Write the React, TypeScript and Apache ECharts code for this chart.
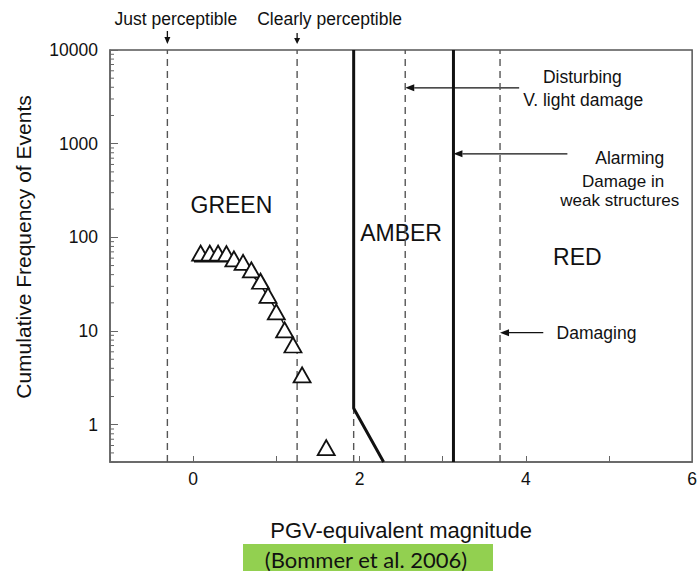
import React, { useEffect, useRef } from "react";
import * as echarts from "echarts";

// ---- data ----
const triangleX = [0.09, 0.2, 0.3, 0.4, 0.49, 0.6, 0.7, 0.81, 0.9, 1.0, 1.1, 1.2, 1.31, 1.6];
const triangleY = [68, 68, 68, 67, 59, 54, 45, 34, 24, 16, 10.3, 7.1, 3.4, 0.57];
const fitX = [0.01, 0.4, 0.55, 0.67, 0.79, 0.9, 1.02, 1.14, 1.26];
const fitY = [55, 55, 50, 42, 33, 23, 15.7, 9.8, 6.8];
const dashedX = [-0.31, 1.25, 1.93, 2.55, 3.69];
const amberBoundaryX = [1.93, 1.93, 2.29];
const amberBoundaryY = [10000, 1.5, 0.4];
const redBoundaryX = [3.13, 3.13];
const redBoundaryY = [10000, 0.4];
const xMin = -1;
const xMax = 6;
const yMin = 0.4;
const yMax = 10000;
const xTickLabels = [0, 2, 4, 6];
const yTickLabels = [1, 10, 100, 1000, 10000];
const minorMultipliers = [2, 3, 4, 5, 6, 7, 8, 9];
const minorDecades = [0.1, 1, 10, 100, 1000];

const zoneLabels = ["GREEN", "AMBER", "RED"];
const zoneX = [0.46, 2.5, 4.62];
const zoneY = [223, 112, 62];

const FONT = '"Liberation Sans", Arial, Helvetica, sans-serif';

export default function App() {
  const ref = useRef<HTMLDivElement>(null);

  useEffect(() => {
    if (!ref.current) return;
    const chart = echarts.init(ref.current, null, { renderer: "svg" });

    const minorValues: number[] = [];
    minorDecades.forEach((d) =>
      minorMultipliers.forEach((m) => {
        const v = d * m;
        if (v >= yMin && v <= yMax) minorValues.push(v);
      })
    );

    const isPow10 = (v: number) => {
      const l = Math.log10(v);
      return Math.abs(l - Math.round(l)) < 1e-6;
    };

    const dashedSeries = dashedX.map((x) => ({
      type: "line",
      data: [
        [x, yMin],
        [x, yMax],
      ],
      symbol: "none",
      silent: true,
      lineStyle: { color: "#555", width: 1.4, type: [7, 5] },
      z: 2,
    }));

    const grid = { left: 110, top: 50, width: 588, height: 412 };

    chart.setOption({
      animation: false,
      backgroundColor: "#fff",
      grid: { ...grid, show: true, borderColor: "#555", borderWidth: 1.5, backgroundColor: "transparent" },
      xAxis: {
        type: "value",
        min: xMin,
        max: xMax,
        interval: 1,
        name: "PGV-equivalent magnitude",
        nameLocation: "middle",
        nameGap: 57,
        nameTextStyle: { fontSize: 22, fontFamily: FONT, color: "#111" },
        axisLine: { show: true, onZero: false, lineStyle: { color: "#666", width: 1.5 } },
        axisTick: { show: true, inside: true, length: 6, lineStyle: { color: "#666" } },
        splitLine: { show: false },
        axisLabel: {
          margin: 8,
          fontSize: 17.5,
          fontFamily: FONT,
          color: "#111",
          formatter: (v: number) => (xTickLabels.includes(v) ? String(v) : ""),
        },
      },
      yAxis: {
        type: "log",
        logBase: 10,
        min: yMin,
        max: yMax,
        name: "Cumulative Frequency of Events",
        nameLocation: "middle",
        nameGap: 76,
        nameTextStyle: { fontSize: 21, fontFamily: FONT, color: "#111", padding: [0, 0, 0, 18] },
        axisLine: { show: true, onZero: false, lineStyle: { color: "#666", width: 1.5 } },
        axisTick: { show: true, inside: true, length: 8, lineStyle: { color: "#666" } },
        splitLine: { show: false },
        axisLabel: {
          margin: 12,
          fontSize: 17.5,
          fontFamily: FONT,
          color: "#111",
          showMinLabel: true,
          formatter: (v: number) => {
            if (!isPow10(v)) return "";
            const r = Math.round(v);
            return yTickLabels.includes(r) ? String(r) : "";
          },
        },
      },
      series: [
        ...dashedSeries,
        {
          type: "custom",
          silent: true,
          clip: false,
          data: minorValues.map((v) => [xMin, v]),
          renderItem: (_p: any, api: any) => {
            const pt = api.coord([api.value(0), api.value(1)]);
            return {
              type: "line",
              shape: { x1: pt[0], y1: pt[1], x2: pt[0] + 4, y2: pt[1] },
              style: { stroke: "#666", lineWidth: 1 },
            };
          },
          z: 3,
        },
        {
          type: "line",
          data: amberBoundaryX.map((x, i) => [x, amberBoundaryY[i]]),
          symbol: "none",
          silent: true,
          lineStyle: { color: "#111", width: 3 },
          z: 4,
        },
        {
          type: "line",
          data: redBoundaryX.map((x, i) => [x, redBoundaryY[i]]),
          symbol: "none",
          silent: true,
          lineStyle: { color: "#111", width: 3 },
          z: 4,
        },
        {
          type: "line",
          data: fitX.map((x, i) => [x, fitY[i]]),
          symbol: "none",
          smooth: 0.3,
          silent: true,
          lineStyle: { color: "#111", width: 1.4 },
          z: 4,
        },
        {
          type: "scatter",
          data: triangleX.map((x, i) => [x, triangleY[i]]),
          symbol: "triangle",
          symbolSize: [17, 15],
          itemStyle: { color: "#fff", borderColor: "#111", borderWidth: 1.8, opacity: 1 },
          z: 5,
        },
      ],
    });

    const px = (x: number, y: number) => chart.convertToPixel({ gridIndex: 0 }, [x, y]) as number[];
    const gridTop = grid.top;

    const text = (t: string, x: number, y: number, size: number, align = "center", family = FONT) => ({
      type: "text",
      x,
      y,
      silent: true,
      style: {
        text: t,
        fontSize: size,
        lineHeight: size,
        fontFamily: family,
        fill: "#111",
        align,
        verticalAlign: "middle",
      },
    });

    const arrow = (x1: number, y1: number, x2: number, y2: number, head = 9, hw = 3.5) => {
      const dx = x2 - x1;
      const dy = y2 - y1;
      const len = Math.hypot(dx, dy);
      const ux = dx / len;
      const uy = dy / len;
      const bx = x2 - ux * head;
      const by = y2 - uy * head;
      return [
        { type: "line", silent: true, shape: { x1, y1, x2: bx, y2: by }, style: { stroke: "#111", lineWidth: 1.3 } },
        {
          type: "polygon",
          silent: true,
          shape: {
            points: [
              [x2, y2],
              [bx - uy * hw, by + ux * hw],
              [bx + uy * hw, by - ux * hw],
            ],
          },
          style: { fill: "#111" },
        },
      ];
    };

    const justX = px(dashedX[0], 1)[0];
    const clearX = px(dashedX[1], 1)[0];
    const disturbA = px(3.92, 3950);
    const disturbB = px(dashedX[3], 3950);
    const alarmA = px(4.5, 780);
    const alarmB = px(redBoundaryX[0], 780);
    const damA = px(4.21, 9.6);
    const damB = px(dashedX[4], 9.6);

    const graphics: any[] = [
      text("Just perceptible", justX + 8.5, gridTop - 31, 17.5),
      ...arrow(justX, gridTop - 19, justX, gridTop - 6, 7, 3),
      text("Clearly perceptible", clearX + 32.5, gridTop - 31, 17.5),
      ...arrow(clearX, gridTop - 17, clearX, gridTop - 6, 6, 3),
      ...arrow(disturbA[0], disturbA[1], disturbB[0], disturbB[1]),
      ...arrow(alarmA[0], alarmA[1], alarmB[0], alarmB[1]),
      ...arrow(damA[0], damA[1], damB[0], damB[1]),
    ];

    const p1 = px(4.68, 5180);
    const p2 = px(4.69, 2940);
    const p3 = px(5.25, 707);
    const p4 = px(5.17, 395);
    const p5 = px(5.13, 245);
    const p6 = px(4.85, 9.6);
    graphics.push(
      text("Disturbing", p1[0], p1[1], 17.5),
      text("V. light damage", p2[0], p2[1], 17.5),
      text("Alarming", p3[0], p3[1], 17.5),
      text("Damage in", p4[0], p4[1], 17),
      text("weak structures", p5[0], p5[1], 17),
      text("Damaging", p6[0], p6[1], 17.5)
    );
    zoneLabels.forEach((z, i) => {
      const p = px(zoneX[i], zoneY[i]);
      graphics.push(text(z, p[0], p[1], 23));
    });

    graphics.push(
      { type: "rect", silent: true, shape: { x: 243, y: 544, width: 250, height: 27 }, style: { fill: "#92D050" } },
      text("(Bommer et al. 2006)", 366, 559, 22, "center", 'Lato, "Noto Sans", sans-serif')
    );

    chart.setOption({ graphic: graphics });

    return () => chart.dispose();
  }, []);

  return <div ref={ref} style={{ width: 700, height: 571, position: "absolute", left: 0, top: 0 }} />;
}
